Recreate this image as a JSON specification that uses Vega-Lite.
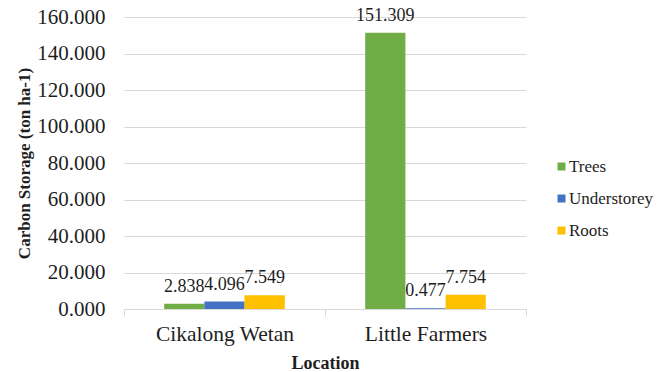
{
  "$schema": "https://vega.github.io/schema/vega-lite/v6.json",
  "width": 402,
  "height": 292,
  "autosize": "none",
  "padding": {"left": 124, "top": 17, "right": 141, "bottom": 63},
  "background": "white",
  "config": {
    "view": {"stroke": null},
    "font": "Liberation Serif"
  },
  "data": {
    "values": [
      {"location": "Cikalong Wetan", "component": "Trees", "value": 2.838},
      {"location": "Cikalong Wetan", "component": "Understorey", "value": 4.096},
      {"location": "Cikalong Wetan", "component": "Roots", "value": 7.549},
      {"location": "Little Farmers", "component": "Trees", "value": 151.309},
      {"location": "Little Farmers", "component": "Understorey", "value": 0.477},
      {"location": "Little Farmers", "component": "Roots", "value": 7.754}
    ]
  },
  "encoding": {
    "x": {
      "field": "location",
      "type": "nominal",
      "sort": ["Cikalong Wetan", "Little Farmers"],
      "scale": {"paddingInner": 0, "paddingOuter": 0},
      "axis": {
        "title": "Location",
        "titleFont": "Liberation Serif",
        "titleFontSize": 18,
        "titleFontWeight": "bold",
        "titleColor": "#1e1e1e",
        "titleY": 54,
        "titleBaseline": "middle",
        "labelFont": "Liberation Serif",
        "labelFontSize": 21.5,
        "labelColor": "#1e1e1e",
        "labelAngle": 0,
        "labelPadding": 7,
        "labelBaseline": "top",
        "tickBand": "extent",
        "ticks": true,
        "tickSize": 7,
        "tickColor": "#d9d9d9",
        "domainColor": "#d9d9d9",
        "domainWidth": 1,
        "grid": false
      }
    },
    "xOffset": {
      "field": "component",
      "type": "nominal",
      "sort": ["Trees", "Understorey", "Roots"],
      "scale": {"paddingInner": 0, "paddingOuter": 1.11}
    },
    "y": {
      "field": "value",
      "type": "quantitative",
      "scale": {"domain": [0, 160], "nice": false},
      "axis": {
        "title": "Carbon Storage  (ton ha-1)",
        "titleFont": "Liberation Serif",
        "titleFontSize": 17,
        "titleFontWeight": "bold",
        "titleColor": "#1e1e1e",
        "titleAngle": 270,
        "titleX": -100,
        "titleY": 146,
        "titleAlign": "center",
        "titleBaseline": "middle",
        "values": [0, 20, 40, 60, 80, 100, 120, 140, 160],
        "format": ".3f",
        "labelFont": "Liberation Serif",
        "labelFontSize": 21,
        "labelColor": "#1e1e1e",
        "labelPadding": 19,
        "ticks": false,
        "tickSize": 0,
        "domain": false,
        "grid": true,
        "gridColor": "#d9d9d9",
        "gridWidth": 1
      }
    }
  },
  "layer": [
    {
      "mark": {"type": "bar"},
      "encoding": {
        "color": {
          "field": "component",
          "type": "nominal",
          "sort": ["Trees", "Understorey", "Roots"],
          "scale": {
            "domain": ["Trees", "Understorey", "Roots"],
            "range": ["#70AD47", "#4472C4", "#FFC000"]
          },
          "legend": {
            "title": null,
            "orient": "none",
            "legendX": 429,
            "legendY": 141,
            "symbolType": "square",
            "symbolSize": 64,
            "symbolStrokeWidth": 0,
            "labelFont": "Liberation Serif",
            "labelFontSize": 17,
            "labelColor": "#1e1e1e",
            "labelOffset": -1,
            "rowPadding": 14
          }
        }
      }
    },
    {
      "mark": {"type": "text", "baseline": "alphabetic", "dy": -12, "font": "Liberation Serif", "fontSize": 18, "color": "#1e1e1e"},
      "encoding": {
        "text": {"field": "value", "type": "quantitative", "format": ".3f"}
      }
    }
  ]
}
